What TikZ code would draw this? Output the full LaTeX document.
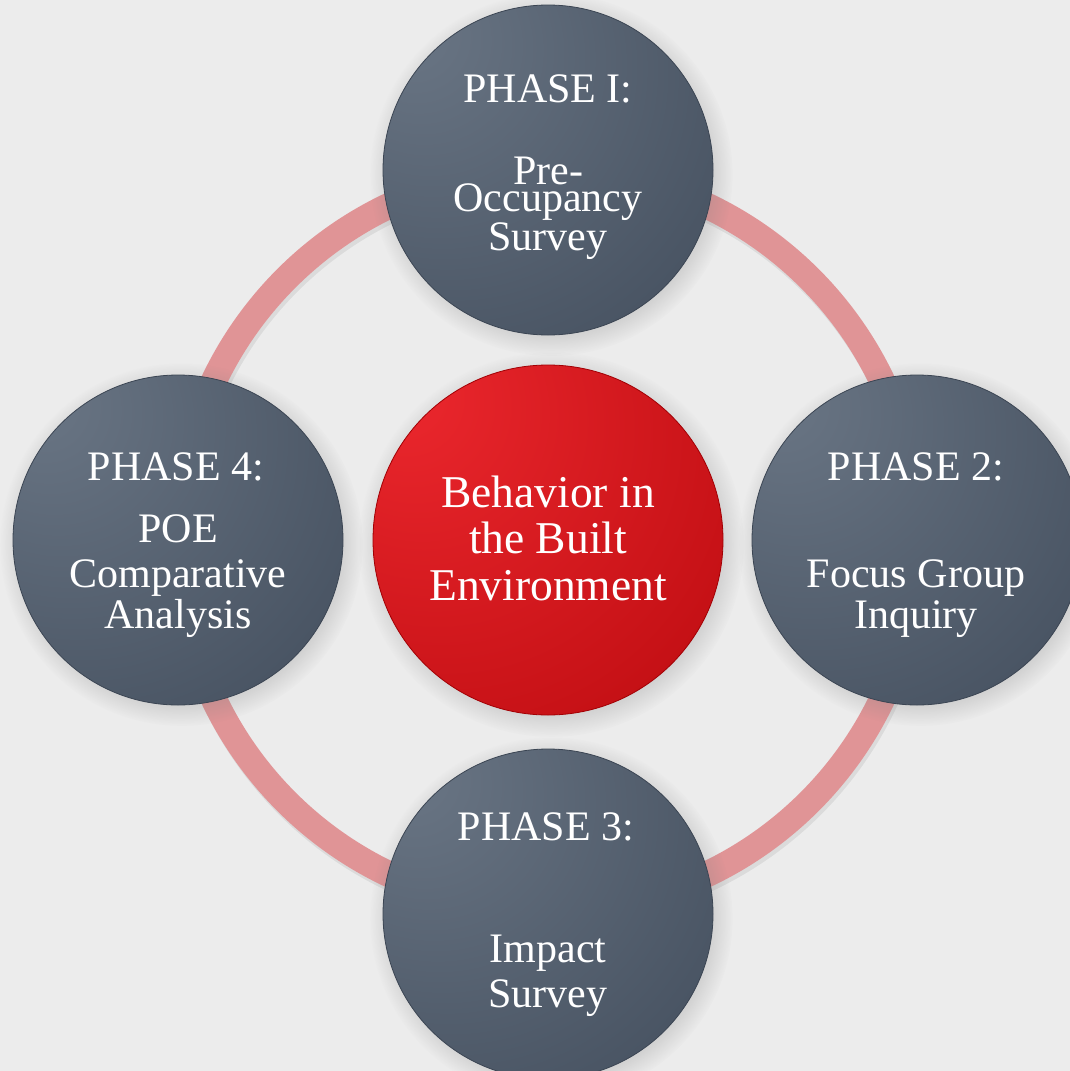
\documentclass[tikz,border=0pt]{standalone}
\usepackage{fontspec}
\setmainfont{Liberation Serif}
\usetikzlibrary{shadows}

\definecolor{paper}{RGB}{236,236,236}
\definecolor{ringpink}{RGB}{224,148,150}
\definecolor{phaselight}{RGB}{106,118,133}
\definecolor{phasedark}{RGB}{66,77,92}
\definecolor{corelight}{RGB}{236,40,46}
\definecolor{coredark}{RGB}{170,0,4}

\pgfdeclareradialshading{phaseglow}{\pgfpoint{-22bp}{22bp}}{color(0bp)=(phaselight); color(45bp)=(phasedark!85!phaselight); color(72bp)=(phasedark); color(100bp)=(phasedark)}
\pgfdeclareradialshading{coreglow}{\pgfpoint{-22bp}{22bp}}{color(0bp)=(corelight); color(40bp)=(coredark!55!corelight); color(68bp)=(coredark); color(100bp)=(coredark)}

\begin{document}
\begin{tikzpicture}[x=1pt,y=-1pt,
  ring/.style={draw=ringpink,line width=26pt},
  phase/.style={circle,inner sep=0pt,minimum size=330pt,shade,shading=phaseglow,
    draw=phasedark!90!black,line width=.8pt,
    circular drop shadow={shadow xshift=3pt,shadow yshift=-4pt,opacity=.3}},
  core/.style={phase,minimum size=350pt,shading=coreglow,draw=coredark!95!black},
  txt/.style={text=white,anchor=base,inner sep=0pt,font=\fontsize{42}{46}\selectfont},
  bigtxt/.style={txt,font=\fontsize{45.5}{48}\selectfont}]
\useasboundingbox (0,0) rectangle (1070,1071);
\fill[paper] (0,0) rectangle (1070,1071);

% ring behind the phases
\coordinate (mid) at (548,540);
\draw[line width=26pt,black,opacity=.07] ([xshift=2pt,yshift=-4pt]mid) circle (370pt);
\draw[ring] (mid) circle (370pt);

% circles
\node[phase] (p1) at (548,170) {};
\node[phase] (p2) at (917,540) {};
\node[phase] (p3) at (548,914) {};
\node[phase] (p4) at (178,540) {};
\node[core] (be) at (548,540) {};

% phase 1
\node[txt] (p1t) at (548,102) {PHASE I:};
\node[txt] (p1a) at (548,184) {Pre-};
\node[txt] (p1b) at (548,211) {Occupancy};
\node[txt] (p1c) at (548,250) {Survey};

% phase 2
\node[txt] (p2t) at (916,480) {PHASE 2:};
\node[txt] (p2a) at (916,587) {Focus Group};
\node[txt] (p2b) at (916,628) {Inquiry};

% phase 3
\node[txt] (p3t) at (546,840) {PHASE 3:};
\node[txt] (p3a) at (548,962) {Impact};
\node[txt] (p3b) at (548,1007) {Survey};

% phase 4
\node[txt] (p4t) at (176,480) {PHASE 4:};
\node[txt] (p4a) at (178,542) {POE};
\node[txt] (p4b) at (178,587) {Comparative};
\node[txt] (p4c) at (178,628) {Analysis};

% centre
\node[bigtxt] (bea) at (548,507) {Behavior in};
\node[bigtxt] (beb) at (548,553) {the Built};
\node[bigtxt] (bec) at (548,600) {Environment};
\end{tikzpicture}
\end{document}
